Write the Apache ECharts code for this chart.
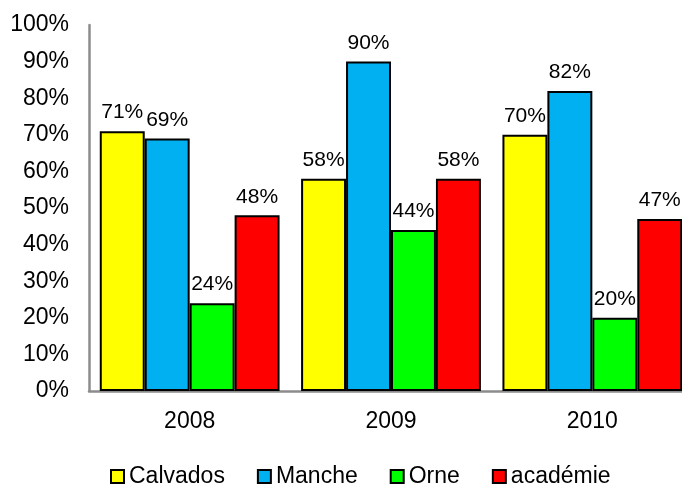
<!DOCTYPE html>
<html>
<head>
<meta charset="utf-8">
<script src="https://cdn.jsdelivr.net/npm/echarts@6/dist/echarts.min.js"></script>
<style>
  html, body { margin: 0; padding: 0; background: #fff; }
  #chart { width: 682px; height: 485px; }
</style>
</head>
<body>
<div id="chart"></div>
<script>
// Years on the category axis
const years = ['2008', '2009', '2010'];

// Share per department and for the whole académie (%)
const calvados = [71, 58, 70];
const manche = [69, 90, 82];
const orne = [24, 44, 20];
const academie = [48, 58, 47];

const seriesNames = ['Calvados', 'Manche', 'Orne', 'académie'];
const seriesColors = ['#FFFF00', '#00B0F0', '#00FF00', '#FF0000'];
const seriesValues = [calvados, manche, orne, academie];

const FONT = '"Liberation Sans", Arial, sans-serif';

const chart = echarts.init(document.getElementById('chart'), null, { renderer: 'canvas' });

chart.setOption({
  animation: false,
  backgroundColor: '#fff',
  textStyle: { fontFamily: FONT, color: '#000' },
  // the plot runs a little past the right edge of the canvas
  grid: {
    left: 89, top: 25, height: 366, width: 604,
    containLabel: false,
    outerBoundsMode: 'none'
  },
  legend: {
    data: seriesNames,
    left: 110,
    top: 465,
    padding: 0,
    itemWidth: 13,
    itemHeight: 13,
    itemGap: 32,
    icon: 'rect',
    itemStyle: { borderColor: '#000', borderWidth: 2 },
    textStyle: { fontFamily: FONT, fontSize: 23, color: '#000' }
  },
  xAxis: {
    type: 'category',
    data: years,
    axisLine: { lineStyle: { color: '#8c8c8c', width: 2.5 } },
    axisTick: { show: false },
    axisLabel: { fontFamily: FONT, fontSize: 23, color: '#000', margin: 19 },
    splitLine: { show: false }
  },
  yAxis: {
    type: 'value',
    min: 0,
    max: 100,
    interval: 10,
    axisLine: { show: true, lineStyle: { color: '#8c8c8c', width: 2.5 } },
    axisTick: { show: false },
    splitLine: { show: false },
    axisLabel: { fontFamily: FONT, fontSize: 23, color: '#000', margin: 20, formatter: '{value}%' }
  },
  series: seriesNames.map((name, i) => ({
    name,
    type: 'bar',
    data: seriesValues[i],
    barGap: '0%',
    barCategoryGap: '10.7%',
    itemStyle: { color: seriesColors[i], borderColor: '#000', borderWidth: 2 },
    label: {
      show: true,
      position: 'top',
      distance: 8,
      fontFamily: FONT,
      fontSize: 21,
      color: '#000',
      formatter: p => p.value + '%'
    }
  }))
});
</script>
</body>
</html>
